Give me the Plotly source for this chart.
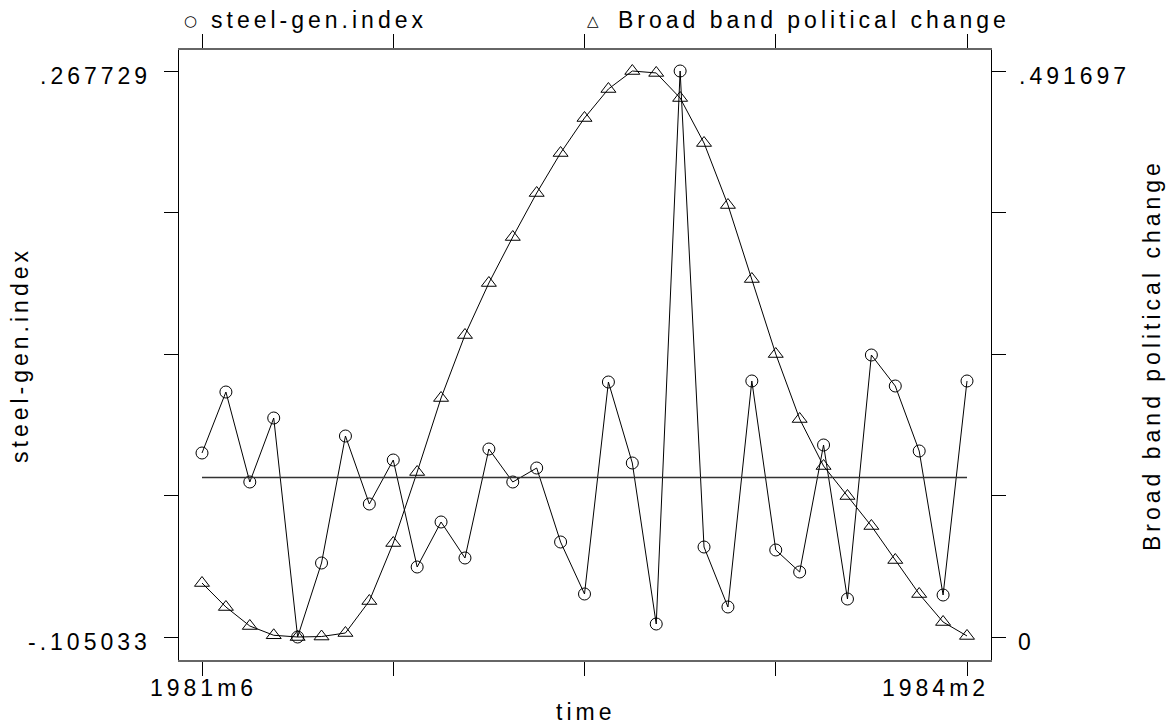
import plotly.graph_objects as go

# ---- data ----
months = ["1981m6","1981m7","1981m8","1981m9","1981m10","1981m11","1981m12",
          "1982m1","1982m2","1982m3","1982m4","1982m5","1982m6","1982m7","1982m8",
          "1982m9","1982m10","1982m11","1982m12","1983m1","1983m2","1983m3","1983m4",
          "1983m5","1983m6","1983m7","1983m8","1983m9","1983m10","1983m11","1983m12",
          "1984m1","1984m2"]
steel_gen_index = [0.01615, 0.05632, -0.00295, 0.03920, -0.105033, -0.05630, 0.02734,
                   -0.01744, 0.01154, -0.05893, -0.02929, -0.05300, 0.01878, -0.00295,
                   0.00627, -0.04247, -0.07671, 0.06291, 0.00956, -0.09647, 0.267729,
                   -0.04576, -0.08527, 0.06357, -0.04773, -0.06222, 0.02142, -0.08001,
                   0.08069, 0.06027, 0.01747, -0.07737, 0.06357]
political_change = [0.04691, 0.02606, 0.00956, 0.00150, 0.0, 0.00040, 0.00347,
                    0.03127, 0.08166, 0.14334, 0.20762, 0.26235, 0.30753, 0.34749,
                    0.38571, 0.42046, 0.45087, 0.47606, 0.491697, 0.49000, 0.46824,
                    0.42915, 0.37529, 0.31100, 0.24585, 0.18938, 0.14855, 0.12249,
                    0.09643, 0.06689, 0.03735, 0.01303, 0.00090]
ref_level = 0.0
left_min, left_max = -0.105033, 0.267729
right_min, right_max = 0.0, 0.491697
x_tick_every = 8

idx = list(range(len(months)))

W, H = 1172, 726
L, R, T, B = 179, 991, 50, 660
FONT = "Liberation Sans, Arial, sans-serif"
FS = 23


def ls(t):
    return f'<span style="letter-spacing:4px">{t}</span>'


def px(x):
    return (x - L) / (R - L)


def py(y):
    return (B - y) / (B - T)

# axis ranges so that data extremes sit at the reference pixel rows
n = len(months) - 1
xpp = n / (967 - 202)
x_range = [-(202 - L) * xpp, n + (R - 967) * xpp]
lpp = (left_max - left_min) / (637 - 71)
y1_range = [left_min - (B - 637) * lpp, left_max + (71 - T) * lpp]
rpp = (right_max - right_min) / (637 - 71)
y2_range = [right_min - (B - 637) * rpp, right_max + (71 - T) * rpp]

fig = go.Figure()
fig.add_trace(go.Scatter(
    x=idx, y=steel_gen_index, mode="lines+markers", name="steel-gen.index",
    line=dict(color="black", width=1),
    marker=dict(symbol="circle-open", size=12, color="black", line=dict(width=1)),
    cliponaxis=False, yaxis="y"))
fig.add_trace(go.Scatter(
    x=idx, y=political_change, mode="lines+markers", name="Broad band political change",
    line=dict(color="black", width=1),
    marker=dict(symbol="triangle-up-open", size=13, color="black", line=dict(width=1)),
    cliponaxis=False, yaxis="y2"))

fig.add_shape(type="line", xref="x", yref="y", x0=idx[0], x1=idx[-1],
              y0=ref_level, y1=ref_level, line=dict(color="#333", width=1.3))

lticks = [left_min + i * (left_max - left_min) / 4 for i in range(5)]
rticks = [right_min + i * (right_max - right_min) / 4 for i in range(5)]

fig.update_layout(
    width=W, height=H, autosize=False,
    margin=dict(l=L, r=W - R, t=T, b=H - B, pad=0),
    paper_bgcolor="white", plot_bgcolor="white",
    showlegend=False,
    font=dict(family=FONT, size=FS, color="black"),
    xaxis=dict(range=x_range, tickvals=idx[::x_tick_every], showticklabels=False,
               ticks="outside", ticklen=14, tickwidth=1, tickcolor="black",
               showline=True, linecolor="#666", linewidth=2, mirror="ticks",
               showgrid=False, zeroline=False),
    yaxis=dict(range=y1_range, tickvals=lticks, showticklabels=False,
               ticks="outside", ticklen=14, tickwidth=1, tickcolor="black",
               showline=True, linecolor="black", linewidth=1,
               showgrid=False, zeroline=False),
    yaxis2=dict(range=y2_range, tickvals=rticks, showticklabels=False, overlaying="y",
                side="right", ticks="outside", ticklen=14, tickwidth=1, tickcolor="black",
                showline=True, linecolor="black", linewidth=1,
                showgrid=False, zeroline=False),
)

ann = []
def add(text, x, y, xa="center", ya="middle", angle=0, size=FS, family=FONT):
    ann.append(dict(text=text, x=px(x), y=py(y), xref="paper", yref="paper",
                    xanchor=xa, yanchor=ya, showarrow=False, textangle=angle,
                    font=dict(family=family, size=size, color="black")))

fmt = lambda v: ("%.6f" % v).replace("0.", ".", 1) if v != 0 else "0"
add(ls(fmt(left_max)), 153, 76, xa="right")
add(ls(fmt(left_min)), 153, 642, xa="right")
add(ls(fmt(right_max)), 1017, 76, xa="left")
add(ls(fmt(right_min)), 1016, 642, xa="left")
add(ls(months[0]), 203, 688)
add(ls(months[-1]), 991, 688, xa="right")
add(ls("time"), 585, 712)
add(ls("steel-gen.index"), 20, 355, angle=-90)
add(ls("Broad band political change"), 1152, 355, angle=-90)
# legend
add("○", 190, 21, size=15, family="DejaVu Sans")
add(ls("steel-gen.index"), 209, 20, xa="left")
add("△", 593, 21, size=15, family="DejaVu Sans")
add(ls("Broad band political change"), 616, 20, xa="left")
fig.update_layout(annotations=ann)

fig.write_html("out.html", config={"displayModeBar": False},
               post_script="document.body.style.margin='0';document.body.style.overflow='hidden';")
